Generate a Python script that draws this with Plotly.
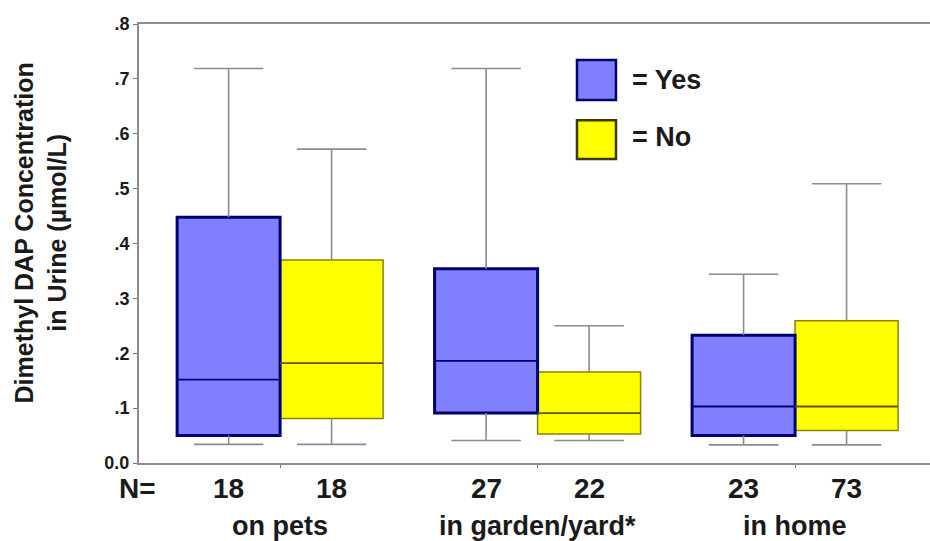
import plotly.graph_objects as go

# Box-plot summaries (µmol/L) per application site, Yes / No
categories = ["on pets", "in garden/yard*", "in home"]
n_yes = [18, 27, 23]
n_no = [18, 22, 73]

yes_low = [0.034, 0.041, 0.033]
yes_q1 = [0.050, 0.091, 0.050]
yes_med = [0.152, 0.186, 0.103]
yes_q3 = [0.448, 0.354, 0.233]
yes_high = [0.719, 0.719, 0.344]

no_low = [0.034, 0.041, 0.033]
no_q1 = [0.081, 0.053, 0.059]
no_med = [0.182, 0.091, 0.103]
no_q3 = [0.370, 0.166, 0.259]
no_high = [0.572, 0.250, 0.509]

y_ticks = [0.0, 0.1, 0.2, 0.3, 0.4, 0.5, 0.6, 0.7, 0.8]
y_ticktext = ["0.0", ".1", ".2", ".3", ".4", ".5", ".6", ".7", ".8"]

FONT = "Liberation Sans, Arial, sans-serif"
TXT = "#1a1a1a"
BOX_W = 0.40
CAP_W = 0.27
OFF = 0.20

yes_x = [i - OFF for i in range(len(categories))]
no_x = [i + OFF for i in range(len(categories))]

fig = go.Figure()


def whisker_lines(xs, low, q1, q3, high):
    wx, wy = [], []
    for x, lo, a, b, hi in zip(xs, low, q1, q3, high):
        wx += [x, x, None, x, x, None, x - CAP_W / 2, x + CAP_W / 2, None,
               x - CAP_W / 2, x + CAP_W / 2, None]
        wy += [b, hi, None, a, lo, None, hi, hi, None, lo, lo, None]
    return wx, wy


def median_lines(xs, med):
    mx, my = [], []
    for x, m in zip(xs, med):
        mx += [x - BOX_W / 2, x + BOX_W / 2, None]
        my += [m, m, None]
    return mx, my


for xs, low, q1, q3, high in [(yes_x, yes_low, yes_q1, yes_q3, yes_high),
                              (no_x, no_low, no_q1, no_q3, no_high)]:
    wx, wy = whisker_lines(xs, low, q1, q3, high)
    fig.add_trace(go.Scatter(x=wx, y=wy, mode="lines",
                             line=dict(color="#8c8c8c", width=1.6),
                             hoverinfo="skip", showlegend=False))

fig.add_trace(go.Bar(x=no_x, base=no_q1, y=[b - a for a, b in zip(no_q1, no_q3)],
                     width=BOX_W, marker=dict(color="#ffff00",
                                              line=dict(color="#8a8400", width=1.5)),
                     name="No", showlegend=False))
fig.add_trace(go.Bar(x=yes_x, base=yes_q1, y=[b - a for a, b in zip(yes_q1, yes_q3)],
                     width=BOX_W, marker=dict(color="#8080ff",
                                              line=dict(color="#00006e", width=3)),
                     name="Yes", showlegend=False))

mx, my = median_lines(no_x, no_med)
fig.add_trace(go.Scatter(x=mx, y=my, mode="lines", line=dict(color="#5c5800", width=1.8),
                         hoverinfo="skip", showlegend=False))
mx, my = median_lines(yes_x, yes_med)
fig.add_trace(go.Scatter(x=mx, y=my, mode="lines", line=dict(color="#00006e", width=1.8),
                         hoverinfo="skip", showlegend=False))


def bold(size):
    return dict(family=FONT, size=size, color=TXT, weight="bold")


annotations = []
for x, n in zip(yes_x + no_x, n_yes + n_no):
    annotations.append(dict(x=x, xref="x", y=0, yref="paper", xanchor="center",
                            yanchor="middle", yshift=-25, text=str(n), showarrow=False,
                            font=bold(28)))
for i, c in enumerate(categories):
    annotations.append(dict(x=i, xref="x", y=0, yref="paper", xanchor="center",
                            yanchor="middle", yshift=-63, text=c, showarrow=False,
                            font=bold(27)))
annotations.append(dict(x=-0.0025, xref="paper", y=0, yref="paper", xanchor="center",
                        yanchor="middle", yshift=-25, text="N=", showarrow=False,
                        font=bold(28)))
annotations.append(dict(x=-0.124, xref="paper", y=0.525, yref="paper", textangle=-90,
                        xanchor="center", yanchor="middle",
                        text="Dimethyl DAP Concentration<br>in Urine (µmol/L)",
                        showarrow=False, font=bold(25)))
# legend
annotations.append(dict(x=0.621, xref="paper", y=0.872, yref="paper", xanchor="left",
                        yanchor="middle", text="= Yes", showarrow=False, font=bold(27)))
annotations.append(dict(x=0.621, xref="paper", y=0.7426, yref="paper", xanchor="left",
                        yanchor="middle", text="= No", showarrow=False, font=bold(27)))

shapes = [
    dict(type="rect", xref="paper", yref="paper", x0=0.5537, x1=0.603, y0=0.827, y1=0.918,
         fillcolor="#8080ff", line=dict(color="#00006e", width=2.5)),
    dict(type="rect", xref="paper", yref="paper", x0=0.5537, x1=0.603, y0=0.6925, y1=0.781,
         fillcolor="#ffff00", line=dict(color="#3a3a00", width=2.5)),
]

fig.update_layout(
    width=930, height=541,
    margin=dict(l=139, r=0, t=24, b=78),
    paper_bgcolor="white", plot_bgcolor="white",
    barmode="overlay",
    annotations=annotations, shapes=shapes,
    xaxis=dict(range=[-0.548, 2.524], tickvals=[0, 1, 2], ticktext=["", "", ""],
               ticks="outside", ticklen=3, tickcolor="#777", showline=True,
               linecolor="#8c8c8c", linewidth=2, mirror=True, showgrid=False,
               zeroline=False, fixedrange=True),
    yaxis=dict(range=[0, 0.8], tickvals=y_ticks, ticktext=y_ticktext,
               ticks="outside", ticklen=4, tickcolor="#777", showline=True,
               linecolor="#8c8c8c", linewidth=2, showgrid=False, zeroline=False,
               tickfont=bold(18)),
)

fig.write_html("out.html")
